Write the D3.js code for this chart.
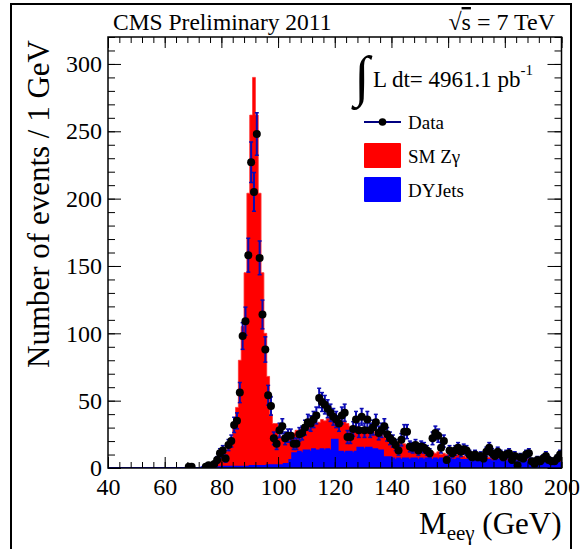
<!DOCTYPE html>
<html>
<head>
<meta charset="utf-8">
<script src="https://cdn.jsdelivr.net/npm/d3@7"></script>
<style>
body { margin: 0; background: #fff; }
text { font-family: "Liberation Serif", "DejaVu Serif", serif; fill: #000; }
</style>
</head>
<body>
<svg id="chart" width="580" height="549"></svg>
<script>
// 1 GeV bins from 40 to 200 GeV
var binLow = 40, binWidth = 1;

// observed events per bin (40 ... 199)
var dataCounts = [
    0, 0, 0, 0, 0, 0, 0, 0, 0, 0,   0, 0, 0, 0, 0, 0, 0, 0, 0, 0,
    0, 0, 0, 0, 0, 0, 0, 0, 1, 1,   0, 0, 0, 0, 1, 2, 1, 3, 6, 11,
    13, 7, 17, 20, 32, 35, 56, 98, 109, 158,   227, 205, 248, 156, 114, 88, 54, 46, 22, 18,
    28, 31, 22, 24, 24, 18, 18, 25, 26, 30,   34, 33, 36, 39, 52, 49, 47, 44, 41, 38,
    36, 33, 39, 41, 23, 23, 29, 36, 28, 38,   28, 36, 28, 30, 34, 26, 28, 31, 25, 22,
    20, 17, 13, 21, 27, 27, 16, 15, 17, 13,   16, 15, 13, 11, 22, 26, 24, 15, 20, 6,
    13, 11, 13, 15, 12, 14, 13, 10, 8, 10,   8, 9, 7, 12, 15, 11, 9, 12, 10, 8,
    10, 11, 6, 9, 2, 8, 7, 10, 11, 5,   3, 6, 5, 7, 9, 6, 5, 5, 7, 10
];

// stacked MC: SM Zgamma + DYJets (top of the red stack)
var zgStack = [
    0, 0, 0, 0, 0, 0, 0, 0, 0, 0,   0, 0, 0, 0, 0, 0, 0, 0, 0, 0,
    0, 0, 0, 0, 0, 0, 0, 0, 0, 0,   0, 0, 0, 0.5, 1, 1.5, 2, 3, 5, 7,
    9, 12, 16, 20, 30, 45, 80, 105, 145, 204,   262, 290, 262, 204, 145, 100, 68, 40, 33, 33,
    24, 23, 22, 23, 24, 26, 28, 28, 30, 29,   30, 31, 32, 33, 34, 36, 35, 37, 38, 40,
    38, 36, 34, 35, 33, 31, 30, 31, 29, 28,   29, 27, 26, 27, 25, 24, 25, 23, 22, 21,
    22, 20, 19, 18, 18, 17, 16, 15, 14, 15,   13, 14, 12, 13, 12, 11, 12, 10, 11, 10,
    9, 10, 9, 10, 9, 9, 8, 9, 8, 8,   9, 8, 7, 8, 8, 7, 8, 7, 7, 8,
    7, 7, 6, 7, 6, 7, 6, 6, 7, 6,   6, 5, 6, 6, 5, 6, 5, 6, 5, 6
];

// DYJets only
var dyJets = [
    0, 0, 0, 0, 0, 0, 0, 0, 0, 0,   0, 0, 0, 0, 0, 0, 0, 0, 0, 0,
    0, 0, 0, 0, 0, 0, 0, 0, 0, 0,   0, 0, 0, 0.5, 0.5, 0.5, 0.5, 0.5, 0.5, 0.5,
    1, 1, 1, 1, 1, 1, 1, 1, 1, 1,   1.5, 1.5, 1.5, 1.5, 1.5, 1.5, 2, 2, 2, 2,
    2, 2, 3, 3, 6, 11, 11, 12, 11, 13,   13, 12, 14, 13, 13, 14, 13, 14, 13, 21,
    21, 12, 12, 11, 12, 12, 11, 12, 15, 15,   14, 15, 15, 14, 14, 13, 13, 8, 8, 8,
    7, 6, 7, 6, 7, 7, 6, 7, 7, 6,   7, 6, 7, 7, 6, 7, 6, 7, 6, 6,
    7, 6, 6, 7, 6, 6, 6, 5, 6, 6,   5, 6, 5, 6, 6, 5, 5, 6, 5, 5,
    5, 5, 4, 5, 5, 4, 5, 5, 4, 5,   4, 4, 5, 4, 4, 4, 4, 4, 4, 4
];

var xTicks = [40, 60, 80, 100, 120, 140, 160, 180, 200];
var yTicks = [0, 50, 100, 150, 200, 250, 300];
var legendItems = ["Data", "SM Z\u03b3", "DYJets"];

var svg = d3.select("#chart");
var plotL = 108, plotR = 561.5, plotT = 37, plotB = 468;

var x = d3.scaleLinear().domain([40, 200]).range([plotL, plotR]);
var y = d3.scaleLinear().domain([0, 320]).range([plotB, plotT]);

// outer canvas border
svg.append("rect")
    .attr("x", 11).attr("y", 4).attr("width", 560).attr("height", 560)
    .attr("fill", "none").attr("stroke", "#000").attr("stroke-width", 2);

svg.append("clipPath").attr("id", "frameClip")
    .append("rect").attr("x", plotL).attr("y", plotT)
    .attr("width", plotR - plotL).attr("height", plotB - plotT);

var toSteps = function (arr) {
    var pts = arr.map(function (v, i) { return {m: binLow + i * binWidth, v: v}; });
    pts.push({m: binLow + arr.length * binWidth, v: arr[arr.length - 1]});
    return pts;
};

var area = d3.area()
    .x(function (d) { return x(d.m); })
    .y0(y(0))
    .y1(function (d) { return y(d.v); })
    .curve(d3.curveStepAfter);

var stepLine = d3.line()
    .x(function (d) { return x(d.m); })
    .y(function (d) { return y(d.v); })
    .curve(d3.curveStepAfter);

var g = svg.append("g").attr("clip-path", "url(#frameClip)");

g.append("path").datum(toSteps(zgStack))
    .attr("fill", "#ff0000").attr("stroke", "#ff3030").attr("stroke-width", 0.8)
    .attr("d", area);

g.append("path").datum(toSteps(dyJets))
    .attr("fill", "#0000ff").attr("d", area);

g.append("path").datum(toSteps(dyJets))
    .attr("fill", "none").attr("stroke", "#0000ff").attr("stroke-width", 2)
    .attr("d", stepLine);

// data points with sqrt(N) errors
var pts = [];
dataCounts.forEach(function (n, i) {
    if (n > 0) pts.push({m: binLow + (i + 0.5) * binWidth, n: n});
});

var errColor = "#0a0ab4";
var eb = g.append("g");
pts.forEach(function (d) {
    var e = Math.sqrt(d.n), cx = x(d.m);
    eb.append("line").attr("x1", cx).attr("x2", cx)
        .attr("y1", y(d.n - e)).attr("y2", y(d.n + e))
        .attr("stroke", errColor).attr("stroke-width", 2);
    [d.n - e, d.n + e].forEach(function (v) {
        eb.append("line").attr("x1", cx - 2).attr("x2", cx + 2)
            .attr("y1", y(v)).attr("y2", y(v))
            .attr("stroke", errColor).attr("stroke-width", 1.5);
    });
});

g.append("g").selectAll("circle").data(pts).enter().append("circle")
    .attr("cx", function (d) { return x(d.m); })
    .attr("cy", function (d) { return y(d.n); })
    .attr("r", 4)
    .attr("fill", "#000");

// axes, ticks inside the frame (ROOT style)
var xMinor = d3.range(40, 201, 4);
var yMinor = d3.range(0, 321, 10);

var addAxis = function (axis, tx, ty, labels) {
    var a = svg.append("g").attr("transform", "translate(" + tx + "," + ty + ")").call(axis);
    a.select(".domain").remove();
    a.selectAll("line").attr("stroke", "#000").attr("stroke-width", 1);
    if (!labels) a.selectAll("text").remove();
    return a;
};

addAxis(d3.axisBottom(x).tickValues(xMinor).tickSize(-6).tickFormat(""), 0, plotB, false);
addAxis(d3.axisTop(x).tickValues(xMinor).tickSize(-6).tickFormat(""), 0, plotT, false);
addAxis(d3.axisLeft(y).tickValues(yMinor).tickSize(-7).tickFormat(""), plotL, 0, false);
addAxis(d3.axisRight(y).tickValues(yMinor).tickSize(-7).tickFormat(""), plotR, 0, false);

var xa = addAxis(d3.axisBottom(x).tickValues(xTicks).tickSize(-11).tickPadding(10).tickFormat(d3.format("d")), 0, plotB, true);
xa.selectAll("text").style("font-size", "24px");
addAxis(d3.axisTop(x).tickValues(xTicks).tickSize(-11), 0, plotT, false);
var ya = addAxis(d3.axisLeft(y).tickValues(yTicks).tickSize(-13).tickPadding(6).tickFormat(d3.format("d")), plotL, 0, true);
ya.selectAll("text").style("font-size", "24px");
addAxis(d3.axisRight(y).tickValues(yTicks).tickSize(-14), plotR, 0, false);

// frame
svg.append("rect")
    .attr("x", plotL).attr("y", plotT).attr("width", plotR - plotL).attr("height", plotB - plotT)
    .attr("fill", "none").attr("stroke", "#000").attr("stroke-width", 1.5);

// titles
svg.append("text").attr("x", 113).attr("y", 30).style("font-size", "23.5px")
    .text("CMS Preliminary 2011");
var rs = svg.append("text").attr("x", 555).attr("y", 30).attr("text-anchor", "end")
    .style("font-size", "24px");
rs.append("tspan").text("\u221a");
rs.append("tspan").attr("text-decoration", "overline").text("s");
rs.append("tspan").text(" = 7 TeV");

svg.append("text")
    .attr("transform", "translate(49,40) rotate(-90)")
    .attr("text-anchor", "end").style("font-size", "31px")
    .text("Number of events / 1 GeV");

var xl = svg.append("text").attr("x", plotR).attr("y", 534)
    .attr("text-anchor", "end").style("font-size", "31px");
xl.append("tspan").text("M");
xl.append("tspan").attr("dy", 6).style("font-size", "21px").text("ee\u03b3");
xl.append("tspan").attr("dy", -6).text(" (GeV)");

// luminosity
svg.append("text").attr("x", 354).attr("y", 95).style("font-size", "56px")
    .text("\u222b");
var lum = svg.append("text").attr("x", 373).attr("y", 87).style("font-size", "23px");
lum.append("tspan").text("L dt= 4961.1 pb");
lum.append("tspan").attr("dy", -12).style("font-size", "15px").text("-1");

// legend
var lx = 364, lw = 37;
svg.append("line").attr("x1", lx).attr("x2", lx + lw).attr("y1", 122).attr("y2", 122)
    .attr("stroke", "#000080").attr("stroke-width", 2);
svg.append("circle").attr("cx", lx + lw / 2).attr("cy", 122).attr("r", 3.8).attr("fill", "#000");
svg.append("rect").attr("x", lx).attr("y", 143).attr("width", lw).attr("height", 25)
    .attr("fill", "#ff0000").attr("rx", 1);
svg.append("rect").attr("x", lx).attr("y", 177).attr("width", lw).attr("height", 25)
    .attr("fill", "#0000ff").attr("rx", 1);
var legY = [129, 163, 197];
legendItems.forEach(function (t, i) {
    svg.append("text").attr("x", 408).attr("y", legY[i]).style("font-size", "19px").text(t);
});
</script>
</body>
</html>
